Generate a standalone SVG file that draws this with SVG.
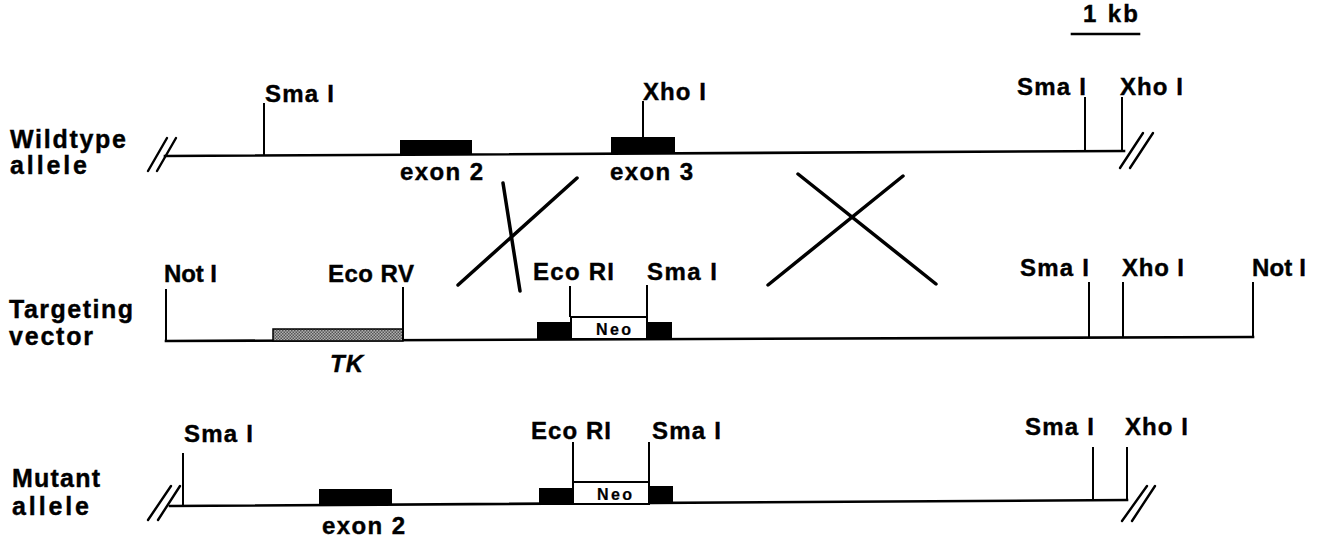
<svg xmlns="http://www.w3.org/2000/svg" width="1326" height="539" viewBox="0 0 1326 539">
<style>
text{font-family:"Liberation Sans",Arial,sans-serif;font-weight:bold;font-size:24px;fill:#000;stroke:#000;stroke-width:0.4}
.lbl{font-size:25px}
.neo{font-size:16px;stroke-width:0.2}
.it{font-style:italic}
.dna{stroke:#000;stroke-width:2.6;fill:none;stroke-linecap:square}
.tick{stroke:#000;stroke-width:2;fill:none}
.brk{stroke:#000;stroke-width:2.4;fill:none;stroke-linecap:round}
.exon{fill:#000}
.neobox{fill:#fff;stroke:#000;stroke-width:2}
.tk{fill:url(#stip);stroke:#000;stroke-width:1.5}
.cross{stroke:#000;stroke-width:3.5;stroke-linecap:round;fill:none}
</style>
<defs>
<pattern id="stip" width="3" height="3" patternUnits="userSpaceOnUse">
<rect width="3" height="3" fill="#b0b0b0"/>
<rect width="1.5" height="1.5" fill="#555"/>
<rect x="1.5" y="1.5" width="1.5" height="1.5" fill="#555"/>
</pattern>
</defs>
<rect width="1326" height="539" fill="#fff"/>

<g id="scale-bar">
<text x="1083" y="22" textLength="55">1 kb</text>
<line x1="1072" y1="34" x2="1139" y2="34" class="dna"/>
</g>

<g id="wildtype-allele">
<text class="lbl" x="10" y="148" textLength="116">Wildtype</text>
<text class="lbl" x="10" y="174" textLength="77">allele</text>
<line x1="148" y1="171" x2="167" y2="138" class="brk"/>
<line x1="157" y1="171" x2="176" y2="138" class="brk"/>
<line x1="165" y1="156" x2="1124" y2="151" class="dna"/>
<g id="wt-smaI-1"><line x1="264" y1="103" x2="264" y2="155" class="tick"/><text x="265" y="102" textLength="69">Sma I</text></g>
<g id="wt-exon2"><rect x="400" y="140" width="72" height="15" class="exon"/><text x="400" y="180" textLength="83">exon 2</text></g>
<g id="wt-exon3"><rect x="611" y="137" width="64" height="16" class="exon"/><line x1="643" y1="101" x2="643" y2="137" class="tick"/><text x="643" y="100" textLength="63">Xho I</text><text x="610" y="180" textLength="83">exon 3</text></g>
<g id="wt-smaI-2"><line x1="1085" y1="97" x2="1085" y2="152" class="tick"/><text x="1017" y="95" textLength="69">Sma I</text></g>
<g id="wt-xhoI"><line x1="1122" y1="97" x2="1122" y2="151" class="tick"/><text x="1120" y="95" textLength="63">Xho I</text></g>
<line x1="1120" y1="168" x2="1143" y2="133" class="brk"/>
<line x1="1130" y1="168" x2="1153" y2="133" class="brk"/>
</g>

<g id="targeting-vector">
<text class="lbl" x="9" y="318" textLength="124">Targeting</text>
<text class="lbl" x="9" y="345" textLength="84">vector</text>
<line x1="166" y1="341" x2="1253" y2="337" class="dna"/>
<g id="tv-notI-1"><line x1="166" y1="289" x2="166" y2="341" class="tick"/><text x="164" y="282" textLength="53">Not I</text></g>
<g id="tv-tk"><rect x="273" y="329" width="130" height="12" class="tk"/><line x1="403" y1="287" x2="403" y2="341" class="tick"/><text x="328" y="282" textLength="86">Eco RV</text><text class="it" x="330" y="372" textLength="33">TK</text></g>
<g id="tv-neo">
<rect x="537" y="322" width="34" height="17" class="exon"/>
<rect x="571" y="317" width="76" height="22" class="neobox"/>
<rect x="647" y="322" width="25" height="17" class="exon"/>
<text class="neo" x="596" y="335" textLength="35">Neo</text>
<line x1="570" y1="286" x2="570" y2="317" class="tick"/><text x="533" y="280" textLength="81">Eco RI</text>
<line x1="647" y1="285" x2="647" y2="317" class="tick"/><text x="647" y="280" textLength="70">Sma I</text>
</g>
<g id="tv-smaI"><line x1="1089" y1="282" x2="1089" y2="338" class="tick"/><text x="1020" y="276" textLength="69">Sma I</text></g>
<g id="tv-xhoI"><line x1="1123" y1="282" x2="1123" y2="338" class="tick"/><text x="1122" y="276" textLength="62">Xho I</text></g>
<g id="tv-notI-2"><line x1="1253" y1="282" x2="1253" y2="338" class="tick"/><text x="1252" y="276" textLength="54">Not I</text></g>
</g>

<g id="mutant-allele">
<text class="lbl" x="12" y="487" textLength="88">Mutant</text>
<text class="lbl" x="12" y="515" textLength="77">allele</text>
<line x1="148" y1="520" x2="171" y2="486" class="brk"/>
<line x1="158" y1="520" x2="180" y2="486" class="brk"/>
<line x1="170" y1="506" x2="1127" y2="500" class="dna"/>
<g id="mu-smaI-1"><line x1="183" y1="453" x2="183" y2="506" class="tick"/><text x="184" y="442" textLength="69">Sma I</text></g>
<g id="mu-exon2"><rect x="319" y="489" width="73" height="16" class="exon"/><text x="322" y="534" textLength="83">exon 2</text></g>
<g id="mu-neo">
<rect x="539" y="488" width="34" height="17" class="exon"/>
<rect x="573" y="482" width="76" height="22" class="neobox"/>
<rect x="649" y="486" width="24" height="18" class="exon"/>
<text class="neo" x="597" y="500" textLength="35">Neo</text>
<line x1="573" y1="442" x2="573" y2="482" class="tick"/><text x="531" y="439" textLength="80">Eco RI</text>
<line x1="649" y1="442" x2="649" y2="482" class="tick"/><text x="652" y="439" textLength="69">Sma I</text>
</g>
<g id="mu-smaI-2"><line x1="1093" y1="447" x2="1093" y2="501" class="tick"/><text x="1025" y="435" textLength="69">Sma I</text></g>
<g id="mu-xhoI"><line x1="1127" y1="447" x2="1127" y2="500" class="tick"/><text x="1125" y="435" textLength="63">Xho I</text></g>
<line x1="1122" y1="521" x2="1147" y2="486" class="brk"/>
<line x1="1132" y1="521" x2="1155" y2="486" class="brk"/>
</g>

<g id="connectors">
<line x1="503" y1="183" x2="520" y2="291" class="cross"/>
<line x1="577" y1="178" x2="458" y2="285" class="cross"/>
<line x1="798" y1="174" x2="936" y2="284" class="cross"/>
<line x1="903" y1="176" x2="768" y2="285" class="cross"/>
</g>
</svg>
